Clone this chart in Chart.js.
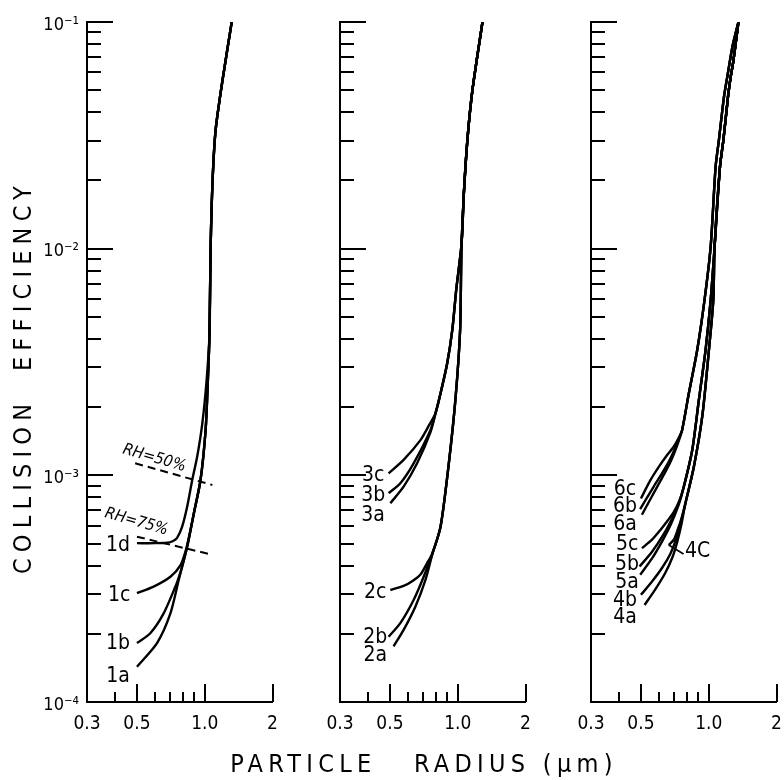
<!DOCTYPE html>
<html><head><meta charset="utf-8">
<script src="https://cdn.jsdelivr.net/npm/chart.js@4.4.1/dist/chart.umd.min.js"></script>
<style>
html,body{margin:0;padding:0;background:#fff;}
#wrap{position:relative;width:784px;height:780px;background:#fff;}
#wrap canvas{position:absolute;left:0;top:0;}
</style></head><body>
<div id="wrap">
<canvas id="c1" width="784" height="780"></canvas>
<canvas id="c2" width="784" height="780"></canvas>
<canvas id="c3" width="784" height="780"></canvas>
</div>
<script>
// ---------------- data ----------------
const xTickValues = [0.3, 0.5, 1.0, 2];
const xTickLabels = ['0.3', '0.5', '1.0', '2'];
const xMinorValues = [0.4, 0.6, 0.7, 0.8, 0.9];
const yTickValues = [1e-4, 1e-3, 1e-2, 1e-1];
const yTickLabels = ['10\u207B\u2074', '10\u207B\u00B3', '10\u207B\u00B2', '10\u207B\u00B9'];
const yMinorValues = [2e-4,3e-4,4e-4,5e-4,6e-4,7e-4,8e-4,9e-4,2e-3,3e-3,4e-3,5e-3,6e-3,7e-3,8e-3,9e-3,2e-2,3e-2,4e-2,5e-2,6e-2,7e-2,8e-2,9e-2];

// panel 1 : [radius, efficiency]
const top1 = [[1.05,4.2e-3],[1.062,0.01],[1.084,0.0201],[1.118,0.0334],[1.20,0.0555],[1.318,0.1]];
const trunk1 = [[0.794,3.96e-4],[0.836,4.85e-4],[0.895,6.81e-4],[0.958,9.54e-4],[1.009,1.585e-3],[1.033,2.64e-3]];
const curve1a = [[0.50,1.43e-4],[0.614,1.82e-4],[0.704,2.46e-4],[0.767,3.46e-4]];
const curve1b = [[0.50,1.82e-4],[0.573,2.01e-4],[0.657,2.46e-4],[0.741,3.23e-4],[0.767,3.55e-4]];
const curve1c = [[0.50,3.02e-4],[0.593,3.23e-4],[0.704,3.57e-4],[0.781,4.02e-4],[0.821,4.61e-4],[0.850,5.3e-4]];
const curve1d = [[0.50,5.02e-4],[0.60,5.02e-4],[0.68,5.04e-4],[0.72,5.12e-4],[0.754,5.3e-4],[0.794,5.94e-4],[0.836,7.28e-4],[0.880,9.54e-4],[0.926,1.21e-3],[0.976,1.70e-3],[1.02,2.64e-3]];
const rh50 = [[0.491,1.13e-3],[1.081,9.07e-4]];
const rh75 = [[0.500,5.36e-4],[1.044,4.50e-4]];

// panel 2
const top2 = [[1.04,0.0105],[1.065,0.0176],[1.104,0.0302],[1.162,0.05],[1.288,0.1]];
const trunk3 = [[0.797,1.88e-3],[0.839,2.30e-3],[0.898,3.12e-3],[0.946,4.38e-3],[0.985,6.6e-3]];
const curve3c = [[0.493,1.02e-3],[0.575,1.17e-3],[0.683,1.43e-3],[0.745,1.66e-3]];
const curve3b = [[0.493,8.34e-4],[0.556,9.23e-4],[0.637,1.13e-3],[0.757,1.585e-3]];
const curve3a = [[0.502,7.53e-4],[0.575,8.91e-4],[0.660,1.13e-3],[0.757,1.55e-3]];
const trunk2 = [[0.839,5.94e-4],[0.913,1.13e-3],[0.979,2.22e-3],[1.025,4.4e-3],[1.035,8e-3]];
const curve2c = [[0.502,3.12e-4],[0.575,3.25e-4],[0.630,3.42e-4],[0.683,3.65e-4],[0.731,4.1e-4],[0.770,4.5e-4]];
const curve2b = [[0.493,1.94e-4],[0.556,2.23e-4],[0.637,2.82e-4],[0.706,3.57e-4],[0.770,4.5e-4]];
const curve2a = [[0.519,1.76e-4],[0.575,2.08e-4],[0.649,2.64e-4],[0.719,3.46e-4],[0.770,4.45e-4]];

// panel 3
const trunkR = [[1.062,0.0102],[1.122,0.023],[1.162,0.0302],[1.218,0.0468],[1.252,0.0574],[1.282,0.0657],[1.318,0.0805],[1.355,0.1]];
const trunk6 = [[0.762,1.585e-3],[0.816,2.30e-3],[0.889,3.57e-3],[0.958,5.94e-3],[1.020,0.0102],[1.073,0.023],[1.110,0.0302],[1.169,0.0468],[1.215,0.0590],[1.275,0.078],[1.355,0.1]];
const curve6c = [[0.500,7.9e-4],[0.55,9.5e-4],[0.60,1.09e-3],[0.65,1.22e-3],[0.70,1.34e-3],[0.735,1.46e-3]];
const curve6b = [[0.496,7.1e-4],[0.569,8.9e-4],[0.620,1.02e-3],[0.665,1.15e-3],[0.705,1.30e-3],[0.737,1.45e-3]];
const curve6a = [[0.505,6.7e-4],[0.590,8.9e-4],[0.640,1.03e-3],[0.680,1.16e-3],[0.713,1.30e-3],[0.740,1.44e-3]];
const trunk5 = [[0.775,8.91e-4],[0.845,1.294e-3],[0.904,2.15e-3],[0.968,3.57e-3],[1.020,5.94e-3]];
const curve5c = [[0.505,4.77e-4],[0.560,5.2e-4],[0.610,5.74e-4],[0.660,6.35e-4],[0.700,6.9e-4],[0.740,7.7e-4]];
const curve5b = [[0.493,3.96e-4],[0.560,4.6e-4],[0.631,5.5e-4],[0.690,6.5e-4],[0.735,7.5e-4]];
const curve5a = [[0.496,3.64e-4],[0.560,4.3e-4],[0.620,5.1e-4],[0.680,6.1e-4],[0.735,7.4e-4]];
const trunk4 = [[0.788,7.53e-4],[0.859,1.092e-3],[0.936,1.82e-3],[1.002,3.57e-3],[1.048,5.94e-3]];
const curve4c = [[0.664,4.93e-4],[0.700,5.2e-4],[0.730,5.8e-4],[0.758,6.5e-4]];
const curve4b = [[0.500,2.97e-4],[0.560,3.4e-4],[0.620,3.9e-4],[0.675,4.5e-4],[0.715,5.2e-4],[0.752,6.2e-4]];
const curve4a = [[0.519,2.68e-4],[0.580,3.15e-4],[0.640,3.7e-4],[0.690,4.35e-4],[0.725,5.1e-4],[0.757,6.1e-4]];

// curve labels (text, radius, efficiency)
const labels1 = [['1d',0.412,4.88e-4],['1c',0.417,2.94e-4],['1b',0.412,1.82e-4],['1a',0.412,1.30e-4]];
const labels2 = [['3c',0.421,9.94e-4],['3b',0.421,8.11e-4],['3a',0.421,6.62e-4],['2c',0.430,3.03e-4],['2b',0.430,1.92e-4],['2a',0.430,1.60e-4]];
const labels3 = [['6c',0.425,8.62e-4],['6b',0.425,7.26e-4],['6a',0.425,6.04e-4],['5c',0.434,4.93e-4],['5b',0.434,4.02e-4],['5a',0.434,3.35e-4],['4b',0.425,2.79e-4],['4a',0.425,2.35e-4]];
const label4c = ['4C',0.892,4.59e-4];
const rhLabels = [['RH=50%',0.597,1.19e-3],['RH=75%',0.497,6.23e-4]];

// ---------------- drawing ----------------
const FONT = "'DejaVu Sans Condensed','Liberation Sans Narrow','DejaVu Sans',sans-serif";
const toXY = arr => arr.map(p => ({x: p[0], y: p[1]}));
function solid(pts){ return {data: toXY(pts), showLine:true, borderColor:'#000', borderWidth:2.4, pointRadius:0, tension:0.25, fill:false}; }
function dashed(pts){ return {data: toXY(pts), showLine:true, borderColor:'#000', borderWidth:2, borderDash:[8,5], pointRadius:0, tension:0, fill:false}; }

const panelPlugin = {
  id: 'panelDeco',
  afterDraw(chart) {
    const o = chart.options.plugins.panelDeco;
    const ctx = chart.ctx, xs = chart.scales.x, ys = chart.scales.y;
    const L = chart.chartArea.left, B = chart.chartArea.bottom;
    ctx.save();
    ctx.strokeStyle = '#000'; ctx.lineWidth = 2; ctx.lineCap = 'butt';
    const seg = (x1,y1,x2,y2) => { ctx.beginPath(); ctx.moveTo(x1,y1); ctx.lineTo(x2,y2); ctx.stroke(); };
    yTickValues.forEach(v => { const p = Math.round(ys.getPixelForValue(v)); seg(L, p, L + 26, p); });
    yMinorValues.forEach(v => { const p = Math.round(ys.getPixelForValue(v)); seg(L, p, L + 14, p); });
    xTickValues.slice(1).forEach(v => { const p = Math.round(xs.getPixelForValue(v)); seg(p, B, p, B - 18); });
    xMinorValues.forEach(v => { const p = Math.round(xs.getPixelForValue(v)); seg(p, B, p, B - 10); });
    // curve labels
    ctx.fillStyle = '#000';
    ctx.font = '21px ' + FONT; ctx.textAlign = 'center'; ctx.textBaseline = 'middle';
    o.labels.forEach(l => ctx.fillText(l[0], xs.getPixelForValue(l[1]), ys.getPixelForValue(l[2])));
    if (o.pointer) {
      const c = o.pointer;
      const x1 = xs.getPixelForValue(c.from[0]), y1 = ys.getPixelForValue(c.from[1]);
      const x2 = xs.getPixelForValue(c.to[1]) - 14, y2 = ys.getPixelForValue(c.to[2]) + 2;
      ctx.lineWidth = 1.6; seg(x1, y1, x2, y2);
    }
    if (o.rh) {
      ctx.font = 'italic 16px ' + FONT;
      o.rh.forEach(l => {
        ctx.save();
        ctx.translate(xs.getPixelForValue(l[1]), ys.getPixelForValue(l[2]));
        ctx.rotate(16 * Math.PI / 180);
        ctx.fillText(l[0], 0, 0);
        ctx.restore();
      });
    }
    if (o.titles) {
      ctx.font = '25px ' + FONT;
      ctx.letterSpacing = '6.2px';
      ctx.save(); ctx.translate(24, 377); ctx.rotate(-Math.PI / 2);
      ctx.fillText('COLLISION  EFFICIENCY', 0, 0); ctx.restore();
      ctx.font = '25px ' + FONT;
      ctx.letterSpacing = '5.3px';
      ctx.fillText('PARTICLE   RADIUS (\u03BCm)', 424, 765);
      ctx.letterSpacing = '0px';
    }
    ctx.restore();
  }
};

function makePanel(id, left, right, yw, datasets, deco, showY) {
  const XH = 45;
  return new Chart(document.getElementById(id), {
    type: 'scatter',
    data: { datasets },
    options: {
      responsive: false, animation: false, devicePixelRatio: 1,
      layout: { padding: { left: left - yw, right: 784 - right, top: 22, bottom: 780 - 702 - XH } },
      plugins: { legend: { display: false }, tooltip: { enabled: false }, panelDeco: deco },
      scales: {
        x: {
          type: 'logarithmic', min: 0.3, max: 2, position: 'bottom',
          grid: { display: false, drawTicks: false },
          border: { display: true, color: '#000', width: 2 },
          afterBuildTicks: s => { s.ticks = xTickValues.map(v => ({ value: v })); },
          afterFit: s => { s.height = XH; s.paddingLeft = 0; s.paddingRight = 0; },
          ticks: { autoSkip: false, maxRotation: 0, minRotation: 0, padding: 11, color: '#000',
            font: { family: FONT, size: 19 },
            callback: v => { const i = xTickValues.indexOf(v); return i >= 0 ? xTickLabels[i] : ''; } }
        },
        y: {
          type: 'logarithmic', min: 1e-4, max: 1e-1, position: 'left',
          grid: { display: false, drawTicks: false },
          border: { display: true, color: '#000', width: 2 },
          afterBuildTicks: s => { s.ticks = yTickValues.map(v => ({ value: v })); },
          afterFit: s => { s.width = yw; s.paddingTop = 0; s.paddingBottom = 0; },
          ticks: { display: showY, autoSkip: false, padding: 8, labelOffset: 3, color: '#000',
            font: { family: FONT, size: 18 },
            callback: v => { const i = yTickValues.findIndex(t => Math.abs(t - v) / t < 1e-6); return i >= 0 ? yTickLabels[i] : ''; } }
        }
      }
    },
    plugins: [panelPlugin]
  });
}

const up1 = trunk1.concat(top1);
makePanel('c1', 87, 272.5, 60, [
  solid(curve1a.concat(up1)), solid(curve1b.concat(up1)), solid(curve1c.concat(trunk1.slice(2), top1)),
  solid(curve1d.concat(top1)), dashed(rh50), dashed(rh75)
], { labels: labels1, rh: rhLabels, titles: true }, true);

makePanel('c2', 340, 525.5, 0, [
  solid(curve3c.concat(trunk3, top2)), solid(curve3b.concat(trunk3, top2)), solid(curve3a.concat(trunk3, top2)),
  solid(curve2c.concat(trunk2, top2)), solid(curve2b.concat(trunk2, top2)), solid(curve2a.concat(trunk2, top2))
], { labels: labels2 }, false);

makePanel('c3', 591, 776.5, 0, [
  solid(curve6c.concat(trunk6)), solid(curve6b.concat(trunk6)), solid(curve6a.concat(trunk6)),
  solid(curve5c.concat(trunk5, trunkR)), solid(curve5b.concat(trunk5, trunkR)), solid(curve5a.concat(trunk5, trunkR)),
  solid(curve4c.concat(trunk4, trunkR)), solid(curve4b.concat(trunk4, trunkR)), solid(curve4a.concat(trunk4, trunkR))
], { labels: labels3.concat([label4c]), pointer: { from: curve4c[0], to: label4c } }, false);
</script>
</body></html>
